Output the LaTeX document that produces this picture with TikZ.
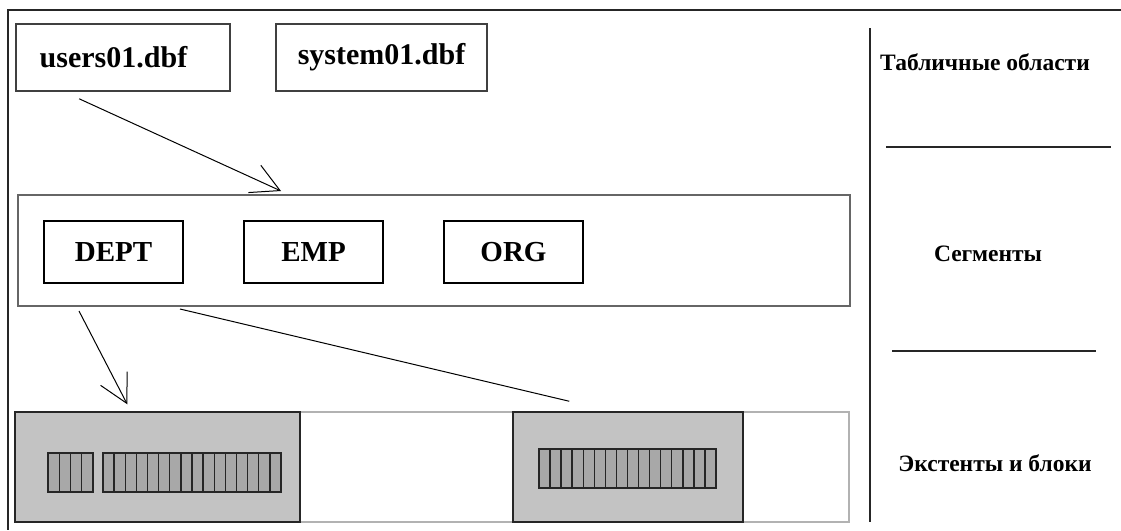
\documentclass[tikz,border=0pt]{standalone}
\usepackage{fontspec}
\setmainfont{Liberation Serif}
\usetikzlibrary{arrows.meta,calc}
\definecolor{extgrey}{HTML}{C3C3C3}
\definecolor{blkgrey}{HTML}{A8A8A8}
\definecolor{frame}{HTML}{404040}
\tikzset{
  filebox/.style={draw=frame, line width=1.6pt, minimum width=214pt, minimum height=67pt, inner sep=0pt, font=\fontsize{30}{32}\selectfont\bfseries},
  segbox/.style={draw=frame!80, line width=2pt, minimum width=832pt, minimum height=111pt, inner sep=0pt},
  tabbox/.style={draw=black, line width=1.2pt, minimum width=139pt, minimum height=62pt, inner sep=0pt, font=\fontsize{29}{31}\selectfont\bfseries},
  extbox/.style={draw=gray!60, line width=1.8pt, minimum width=834pt, minimum height=110pt, inner sep=0pt},
  greybox/.style={draw=black!85, line width=1.5pt, fill=extgrey, minimum height=110pt, inner sep=0pt},
  blk/.style={draw=black!85, line width=1.4pt, fill=blkgrey},
  conn/.style={draw=black, line width=1pt},
  arr/.style={conn, -{Straight Barb[length=28pt, width=30pt, line width=1pt]}},
  sidelabel/.style={font=\fontsize{23.5}{25}\selectfont\bfseries},
  rule/.style={draw=black!85, line width=1.6pt}
}
\begin{document}
\begin{tikzpicture}[x=1pt,y=-1pt]
\useasboundingbox (0,0) rectangle (1121,530);
\fill[white] (0,0) rectangle (1121,530);
% outer frame
\coordinate (ftl) at (8,10);
\coordinate (ftr) at (1121,10);
\coordinate (fbl) at (8,530);
\draw[rule] (ftr) -- (ftl) -- (fbl);
% files
\node[filebox] (users) at (123,57.5) {users01.dbf\hspace*{19pt}};
\node[filebox, minimum width=211pt] (system) at (381.5,57.5) {system01.dbf};
% segments
\node[segbox] (seg) at (434,250.5) {};
\node[tabbox] (dept) at (113.5,252) {DEPT};
\node[tabbox] (emp) at (313.5,252) {EMP};
\node[tabbox] (org) at (513.5,252) {ORG};
% extents
\node[extbox] (ext) at (432,467) {};
\node[greybox, minimum width=285pt] (ext1) at (157.5,467) {};
\node[greybox, minimum width=230pt] (ext2) at (628,467) {};
% blocks
\foreach \x in {0,...,3} \draw[blk] ({48+\x*11.25},453) rectangle ({48+(\x+1)*11.25},492);
\foreach \x in {0,...,15} \draw[blk] ({103+\x*11.125},453) rectangle ({103+(\x+1)*11.125},492);
\foreach \x in {0,...,15} \draw[blk] ({539+\x*11.0625},449) rectangle ({539+(\x+1)*11.0625},488);
% connectors
\coordinate (a1s) at ($(users.south west)+(64,7)$);
\coordinate (a1e) at ($(seg.north west)+(264,-3)$);
\draw[arr] (a1s) -- (a1e);
\coordinate (a2s) at ($(seg.south west)+(62,4)$);
\coordinate (a2e) at ($(ext1.north west)+(113,-7)$);
\draw[arr] (a2s) -- (a2e);
\coordinate (a3s) at ($(seg.south west)+(163,2)$);
\coordinate (a3e) at ($(ext2.north west)+(57,-10)$);
\draw[conn] (a3s) -- (a3e);
% right legend
\coordinate (vt) at (870,28);
\coordinate (vb) at (870,522);
\draw[rule] (vt) -- (vb);
\node[sidelabel] (lab1) at (985,62) {Табличные области};
\coordinate (r1a) at (886,147);
\coordinate (r1b) at (1111,147);
\draw[rule, line width=1.3pt] (r1a) -- (r1b);
\node[sidelabel] (lab2) at (988,254) {Сегменты};
\coordinate (r2a) at (892,351);
\coordinate (r2b) at (1096,351);
\draw[rule, line width=1.3pt] (r2a) -- (r2b);
\node[sidelabel] (lab3) at (995,463) {Экстенты и блоки};
\end{tikzpicture}
\end{document}
